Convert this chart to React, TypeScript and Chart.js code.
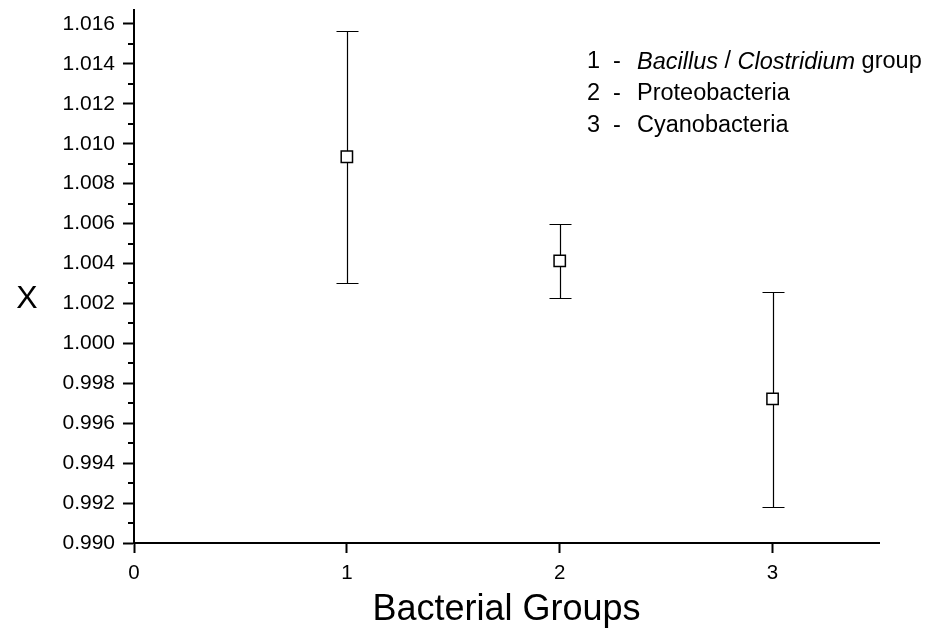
import React, { useEffect, useRef } from 'react';
import { Chart, registerables } from 'chart.js';

Chart.register(...registerables);

// ---- data ----
const groups = [1, 2, 3];
const means = [1.00935, 1.00413, 0.99722];
const upperBounds = [1.01567, 1.006, 1.00258];
const lowerBounds = [1.00303, 1.00228, 0.99182];
const legendNumbers = ['1', '2', '3'];
const legendParts: { t: string; i: boolean }[][] = [
  [
    { t: 'Bacillus', i: true },
    { t: ' / ', i: false },
    { t: 'Clostridium', i: true },
    { t: ' group', i: false },
  ],
  [{ t: 'Proteobacteria', i: false }],
  [{ t: 'Cyanobacteria', i: false }],
];
const yTitle = 'X';
const xTitle = 'Bacterial Groups';
const yMin = 0.99;
const yMax = 1.0167;
const xMin = 0;
const xMax = 3.5;

const FONT = '"Liberation Sans", Arial, Helvetica, sans-serif';

const isMajor = (v: number) => Math.round(v * 1000) % 2 === 0;

const errorBarPlugin = {
  id: 'errorBars',
  beforeDatasetsDraw(chart: any) {
    const { ctx } = chart;
    const xs = chart.scales.x;
    const ys = chart.scales.y;
    ctx.save();
    ctx.strokeStyle = '#000';
    ctx.lineWidth = 1.2;
    groups.forEach((g, i) => {
      const x = Math.round(xs.getPixelForValue(g)) + 0.5;
      const yt = Math.round(ys.getPixelForValue(upperBounds[i])) + 0.5;
      const yb = Math.round(ys.getPixelForValue(lowerBounds[i])) + 0.5;
      const cap = 11;
      ctx.beginPath();
      ctx.moveTo(x, yt);
      ctx.lineTo(x, yb);
      ctx.moveTo(x - cap, yt);
      ctx.lineTo(x + cap, yt);
      ctx.moveTo(x - cap, yb);
      ctx.lineTo(x + cap, yb);
      ctx.stroke();
    });
    ctx.restore();
  },
};

const decorPlugin = {
  id: 'decor',
  afterDraw(chart: any) {
    const { ctx } = chart;
    const ys = chart.scales.y;
    ctx.save();
    // minor ticks on y axis
    ctx.strokeStyle = '#000';
    ctx.lineWidth = 2;
    const left = chart.chartArea.left;
    ys.ticks.forEach((t: any) => {
      if (!isMajor(t.value)) {
        const y = Math.round(ys.getPixelForValue(t.value));
        ctx.beginPath();
        ctx.moveTo(left - 6, y);
        ctx.lineTo(left, y);
        ctx.stroke();
      }
    });
    // y title
    ctx.fillStyle = '#000';
    ctx.font = `32px ${FONT}`;
    ctx.textAlign = 'center';
    ctx.textBaseline = 'middle';
    ctx.fillText(yTitle, 27, 299);
    // legend text
    ctx.textAlign = 'left';
    ctx.textBaseline = 'middle';
    const lineYs = [62, 94, 126];
    legendNumbers.forEach((n, i) => {
      const y = lineYs[i];
      ctx.font = `23.5px ${FONT}`;
      ctx.fillText(n, 587, y);
      ctx.fillText('-', 613, y);
      let x = 637;
      legendParts[i].forEach((p) => {
        ctx.font = `${p.i ? 'italic ' : ''}23.5px ${FONT}`;
        ctx.fillText(p.t, x, y);
        x += ctx.measureText(p.t).width;
      });
    });
    ctx.restore();
  },
};

export default function App() {
  const ref = useRef<HTMLCanvasElement | null>(null);
  useEffect(() => {
    if (!ref.current) return;
    const chart = new Chart(ref.current, {
      type: 'scatter',
      data: {
        datasets: [
          {
            data: groups.map((g, i) => ({ x: g, y: means[i] })),
            pointStyle: 'rect',
            pointRadius: 8,
            pointHoverRadius: 8,
            pointBackgroundColor: '#ffffff',
            pointBorderColor: '#000000',
            pointBorderWidth: 1.5,
            showLine: false,
          },
        ],
      },
      options: {
        responsive: false,
        animation: false,
        events: [],
        layout: { padding: { left: 0, top: 10, right: 57, bottom: 0 } },
        plugins: {
          legend: { display: false },
          tooltip: { enabled: false },
          title: { display: false },
        },
        scales: {
          x: {
            type: 'linear',
            min: xMin,
            max: xMax,
            afterFit: (s: any) => {
              s.height = 94;
              s.paddingLeft = 0;
              s.paddingRight = 0;
            },
            border: { display: true, color: '#000', width: 2 },
            grid: {
              display: true,
              drawOnChartArea: false,
              drawTicks: true,
              tickLength: 10,
              tickWidth: 2,
              tickColor: '#000',
            },
            ticks: {
              stepSize: 1,
              includeBounds: false,
              color: '#000',
              padding: 8,
              font: { family: FONT, size: 20.5 },
              callback: (v: any) => String(v),
            },
            title: {
              display: true,
              text: xTitle,
              color: '#000',
              font: { family: FONT, size: 36 },
              padding: { top: 0, bottom: 5 },
            },
          },
          y: {
            type: 'linear',
            min: yMin,
            max: yMax,
            afterFit: (s: any) => {
              s.width = 134;
              s.paddingTop = 0;
              s.paddingBottom = 0;
            },
            border: { display: true, color: '#000', width: 2 },
            grid: {
              display: true,
              drawOnChartArea: false,
              drawTicks: true,
              tickLength: 11,
              tickWidth: 2,
              tickColor: (c: any) => (c.tick && isMajor(c.tick.value) ? '#000' : 'rgba(0,0,0,0)'),
            },
            ticks: {
              stepSize: 0.001,
              includeBounds: false,
              autoSkip: false,
              color: '#000',
              padding: 8,
              font: { family: FONT, size: 21 },
              callback: (v: any) => (isMajor(Number(v)) ? Number(v).toFixed(3) : ''),
            },
          },
        },
      },
      plugins: [errorBarPlugin, decorPlugin],
    } as any);
    return () => chart.destroy();
  }, []);
  return (
    <div style={{ position: 'absolute', left: 0, top: 0, width: 936, height: 637, background: '#fff' }}>
      <canvas ref={ref} width={936} height={637} style={{ display: 'block' }} />
    </div>
  );
}
